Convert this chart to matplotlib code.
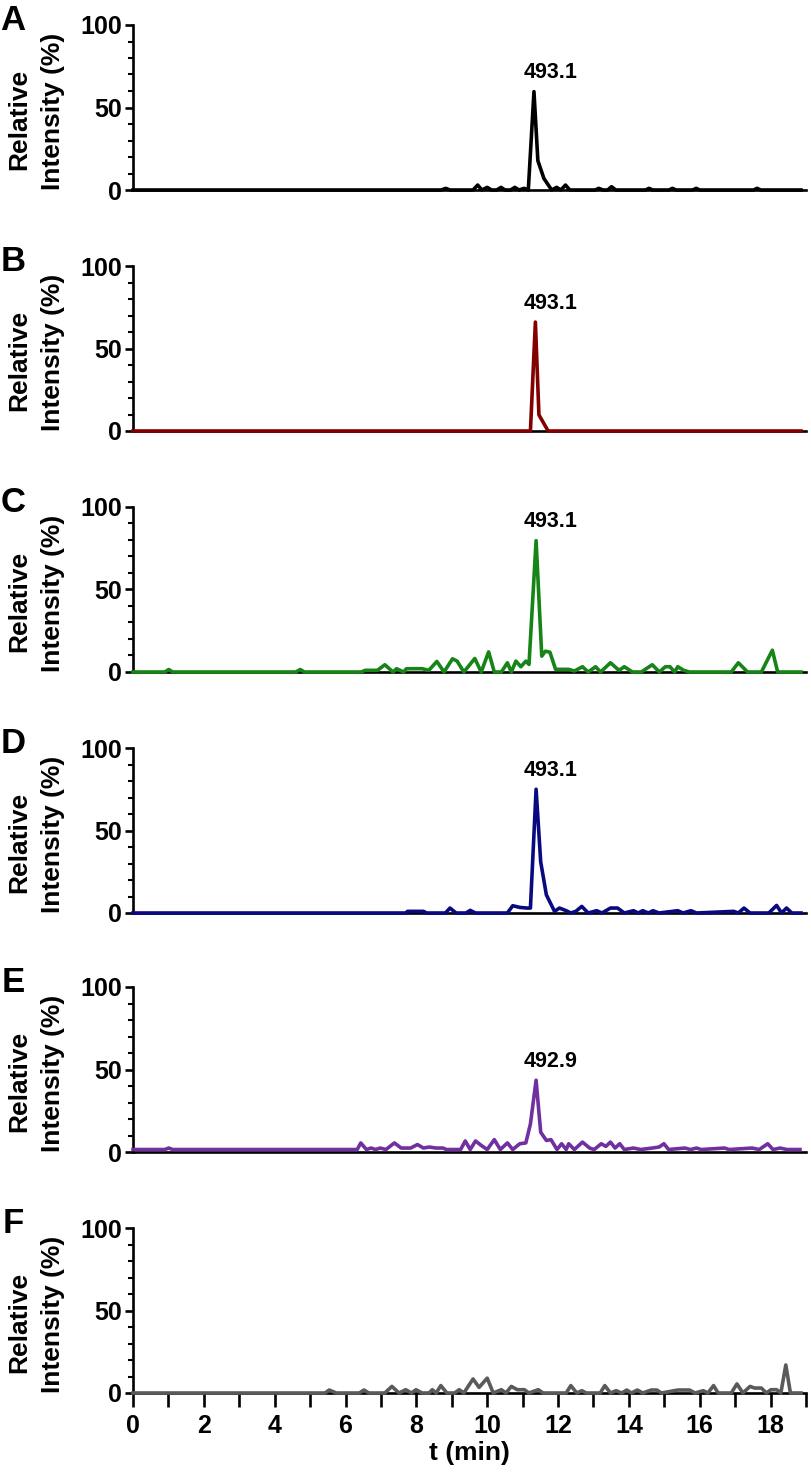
import numpy as np
import matplotlib
matplotlib.use('Agg')
import matplotlib.pyplot as plt
from matplotlib.ticker import MultipleLocator

plt.rcParams['font.family'] = ['Liberation Sans', 'DejaVu Sans']
plt.rcParams['font.weight'] = 'bold'

# Extracted ion chromatograms, time (min) vs relative intensity (%)
t_a = [0, 8.7, 8.83, 8.95, 9.6, 9.73, 9.85, 10.0, 10.12, 10.27, 10.39, 10.5, 10.66, 10.78, 10.9,
       11.04, 11.16, 11.32, 11.43, 11.6, 11.82, 11.96, 12.08, 12.21, 12.33, 13.05, 13.15, 13.27,
       13.4, 13.51, 13.63, 14.47, 14.57, 14.67, 15.13, 15.23, 15.33, 15.8, 15.9, 16.0, 17.52,
       17.62, 17.72, 18.86]
y_a = [0, 0, 1, 0, 0, 3, 0, 1.6, 0, 0, 1.6, 0, 0, 1.6, 0,
       1, 0, 59.6, 17.8, 7, 0, 1.6, 0, 3, 0, 0, 1, 0,
       0, 2, 0, 0, 1, 0, 0, 1, 0, 0, 1, 0, 0,
       1, 0, 0]

t_b = [0, 11.22, 11.36, 11.46, 11.72, 18.86]
y_b = [0, 0, 66, 9.8, 0, 0]

t_c = [0, 0.9, 1.01, 1.12, 4.6, 4.72, 4.84, 6.45, 6.55, 6.9, 7.11, 7.34, 7.44, 7.64, 7.72, 7.93,
       8.16, 8.35, 8.58, 8.78, 9.02, 9.15, 9.34, 9.65, 9.83, 10.04, 10.2, 10.4, 10.57, 10.68,
       10.81, 10.95, 11.09, 11.18, 11.38, 11.54, 11.64, 11.77, 11.93, 12.3, 12.46, 12.69, 12.85,
       13.06, 13.2, 13.48, 13.72, 13.87, 14.1, 14.35, 14.66, 14.86, 15.03, 15.16, 15.29, 15.38,
       15.55, 15.71, 16.89, 17.09, 17.35, 17.74, 18.05, 18.2, 18.86]
y_c = [0, 0, 1.5, 0, 0, 1.5, 0, 0, 1, 1, 4.4, 0, 2, 0, 2, 2,
       2, 1, 6.4, 0, 8, 6.6, 0, 8.2, 0, 12.2, 0, 0, 5.6, 0,
       6.6, 3.2, 6.6, 4.6, 79.6, 9.6, 12.6, 12, 1.6, 1.6, 0.6, 3.2, 0,
       3.2, 0, 5.6, 1, 3.2, 0, 0, 4.4, 0, 3.2, 3.2, 0, 3.2,
       1, 0, 0, 5.6, 0, 0, 13.2, 0, 0]

t_d = [0, 7.7, 7.75, 8.2, 8.29, 8.82, 8.95, 9.12, 9.4, 9.52, 9.67, 10.57, 10.72, 10.92, 11.12,
       11.22, 11.38, 11.51, 11.67, 11.9, 12.04, 12.23, 12.36, 12.5, 12.67, 12.85, 13.09, 13.24,
       13.48, 13.68, 13.87, 14.13, 14.26, 14.39, 14.55, 14.68, 14.85, 15.38, 15.53, 15.75, 15.91,
       16.96, 17.09, 17.25, 17.42, 17.95, 18.17, 18.31, 18.45, 18.6, 18.86]
y_d = [0, 0, 1, 1, 0, 0, 3, 0, 0, 1.6, 0, 0, 4.4, 3.4, 3,
       3, 75, 31, 11, 1, 3, 1.4, 0, 1, 4, 0, 1.4, 0,
       3, 3, 0, 1.4, 0, 1.4, 0, 1.4, 0, 1.4, 0, 1.4, 0,
       1, 0, 3, 0, 0, 4.6, 0, 3, 0, 0]

t_e = [0, 0.9, 1.01, 1.12, 6.33, 6.43, 6.59, 6.72, 6.85, 6.98, 7.14, 7.38, 7.57, 7.84, 8.03,
       8.2, 8.36, 8.56, 8.75, 8.85, 9.02, 9.25, 9.38, 9.52, 9.67, 9.83, 10.0, 10.2, 10.37, 10.57,
       10.72, 10.92, 11.09, 11.22, 11.38, 11.51, 11.67, 11.8, 11.97, 12.1, 12.23, 12.3, 12.46,
       12.69, 12.89, 13.02, 13.22, 13.35, 13.48, 13.61, 13.74, 13.87, 14.13, 14.33, 14.66, 14.85,
       14.99, 15.12, 15.58, 15.74, 15.91, 16.04, 16.7, 16.83, 17.48, 17.68, 17.92, 18.07, 18.27,
       18.46, 18.83]
y_e = [1.5, 1.5, 2.4, 1.5, 1.5, 5.5, 1.5, 2.4, 1.5, 2.4, 1.5, 5.5, 2.4, 2.4, 4.5,
       2.4, 3, 2.4, 2.4, 1.5, 1.5, 1.5, 6.7, 1.5, 6.7, 4, 1.5, 7.5, 1.5, 5.5,
       1.5, 5, 5.5, 17, 43.5, 12, 7, 7.5, 1.5, 5, 1.5, 5, 1.5,
       6, 2.4, 1.5, 5, 3.4, 6, 2.4, 5, 1.5, 2.4, 1.5, 2.4, 3,
       5, 1.5, 2.4, 1.5, 2.4, 1.5, 2.4, 1.5, 2.4, 1.5, 5, 1.5, 2.4,
       1.5, 1.5]

t_f = [0, 5.42, 5.54, 5.74, 6.39, 6.52, 6.66, 7.11, 7.31, 7.51, 7.7, 7.86, 7.99, 8.16, 8.36,
       8.45, 8.56, 8.69, 8.86, 9.08, 9.21, 9.34, 9.6, 9.77, 10.0, 10.17, 10.4, 10.53, 10.68,
       10.85, 11.05, 11.18, 11.44, 11.58, 12.23, 12.36, 12.53, 12.67, 12.8, 13.19, 13.32, 13.48,
       13.64, 13.8, 13.94, 14.07, 14.24, 14.39, 14.63, 14.79, 14.92, 15.38, 15.71, 15.87, 16.1,
       16.23, 16.39, 16.52, 16.89, 17.05, 17.22, 17.42, 17.55, 17.74, 17.88, 18.01, 18.17,
       18.29, 18.43, 18.56, 18.86]
y_f = [0, 0, 1.8, 0, 0, 1.8, 0, 0, 4, 0, 2, 0, 2, 0, 0,
       2, 0, 4.5, 0, 0, 2, 0, 8.5, 3.4, 9, 0, 2, 0, 4,
       2, 2, 0, 2, 0, 0, 4.5, 0, 1.4, 0, 0, 4.5, 0,
       1.4, 0, 1.8, 0, 1.8, 0, 1.8, 1.8, 0, 1.8, 1.8, 0, 1.4,
       0, 4.5, 0, 0, 5.5, 0, 4, 3, 3, 0, 2, 2,
       0, 17, 0, 0]

panels = ['A', 'B', 'C', 'D', 'E', 'F']
times = [t_a, t_b, t_c, t_d, t_e, t_f]
intens = [y_a, y_b, y_c, y_d, y_e, y_f]
colors = ['#000000', '#820000', '#168416', '#0a0a80', '#7030a0', '#5a5a5a']
peak_labels = ['493.1', '493.1', '493.1', '493.1', '492.9', None]

W, H = 812, 1475
fig = plt.figure(figsize=(W / 100, H / 100), dpi=100)

bottoms = [190, 431, 672, 913, 1152, 1393]  # pixel rows of the zero line
ax_h = 165
left, right = 133, 806

for i, p in enumerate(panels):
    ax = fig.add_axes([left / W, 1 - bottoms[i] / H, (right - left) / W, ax_h / H])
    ax.plot(times[i], intens[i], color=colors[i], lw=2.6, clip_on=False, zorder=3)
    ax.set_xlim(0, 19)
    ax.set_ylim(0, 100)
    for s in ['top', 'right']:
        ax.spines[s].set_visible(False)
    ax.spines['left'].set_linewidth(1.9)
    ax.spines['bottom'].set_linewidth(1.9)
    ax.yaxis.set_major_locator(MultipleLocator(50))
    ax.yaxis.set_minor_locator(MultipleLocator(10))
    ax.tick_params(axis='y', which='major', length=6, width=1.9, labelsize=18, pad=2)
    ax.tick_params(axis='y', which='minor', length=3.5, width=1.5)
    if p == 'F':
        ax.xaxis.set_major_locator(MultipleLocator(2))
        ax.xaxis.set_minor_locator(MultipleLocator(1))
        ax.tick_params(axis='x', which='both', length=10, width=1.9, labelsize=18, pad=5)
        ax.set_xlabel('t (min)', fontsize=19, fontweight='bold', labelpad=2)
    else:
        ax.set_xticks([])
    for lab in ax.get_yticklabels() + ax.get_xticklabels():
        lab.set_fontweight('bold')

    if peak_labels[i]:
        ax.text(11.8, max(intens[i]) + 5, peak_labels[i], ha='center', va='bottom',
                fontsize=15.5, fontweight='bold')

    top_px = bottoms[i] - ax_h
    mid_px = bottoms[i] - ax_h / 2
    fig.text(13 / W, 1 - (top_px - 21) / H, p, ha='center', va='top',
             fontsize=25, fontweight='bold')
    fig.text(19 / W, 1 - (mid_px + 12) / H, 'Relative', rotation=90,
             ha='center', va='center', fontsize=19, fontweight='bold')
    fig.text(53 / W, 1 - (mid_px + 4) / H, 'Intensity (%)', rotation=90,
             ha='center', va='center', fontsize=19, fontweight='bold')

fig.savefig('out.png', dpi=100)
